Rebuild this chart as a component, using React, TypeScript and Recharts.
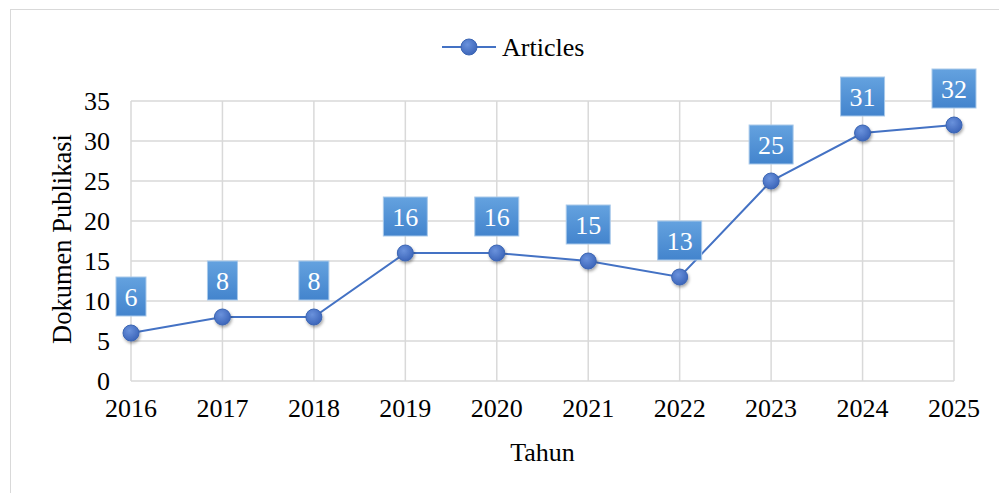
import { LineChart, Line, XAxis, YAxis, CartesianGrid, Legend, LabelList, Label } from "recharts";

const years = ["2016", "2017", "2018", "2019", "2020", "2021", "2022", "2023", "2024", "2025"];
const articles = [6, 8, 8, 16, 16, 15, 13, 25, 31, 32];
const yTicks = [0, 5, 10, 15, 20, 25, 30, 35];

const data = years.map((year, i) => ({ year, articles: articles[i] }));

const FONT = '"Liberation Serif", "Times New Roman", serif';
const BLUE = "#4472C4";

const renderDot = (props: any) => {
  const { cx, cy, index } = props;
  return <circle key={`dot-${index}`} cx={cx} cy={cy} r={8} fill="url(#dotFill)" stroke="#3b65b3" strokeWidth={1} filter="url(#dotShadow)" />;
};

const renderBox = (props: any) => {
  const { x, y, value, index } = props;
  const w = String(value).length > 1 ? 44 : 30;
  const h = 39;
  const bottom = y - 17;
  return (
    <g key={`lbl-${index}`}>
      <rect x={x - w / 2} y={bottom - h} width={w} height={h} fill="url(#boxFill)" stroke="#a9c9ea" strokeWidth={1} />
      <text x={x} y={bottom - h / 2 + 9} textAnchor="middle" fill="#ffffff" style={{ fontFamily: FONT, fontSize: 26 }}>
        {value}
      </text>
    </g>
  );
};

const renderLegend = () => (
  <svg width={999} height={30} style={{ display: "block" }}>
    <defs>
      <radialGradient id="dotFillLegend" cx="40%" cy="35%" r="70%">
        <stop offset="0%" stopColor="#6a92dc" />
        <stop offset="100%" stopColor="#3a63b8" />
      </radialGradient>
    </defs>
    <line x1={442} y1={15} x2={496} y2={15} stroke={BLUE} strokeWidth={2} />
    <circle cx={469} cy={15} r={8} fill="url(#dotFillLegend)" stroke="#3b65b3" strokeWidth={1} />
    <text x={502} y={24} fill="#000" style={{ fontFamily: FONT, fontSize: 26 }}>
      Articles
    </text>
  </svg>
);

const yTitle = (props: any) => {
  const vb = props.viewBox || {};
  const cx = 62;
  const cy = (vb.y || 101) + (vb.height || 280) / 2 - 2;
  return (
    <text x={cx} y={cy} transform={`rotate(-90, ${cx}, ${cy})`} textAnchor="middle" dominantBaseline="central" fill="#000" style={{ fontFamily: FONT, fontSize: 26.5 }}>
      Dokumen Publikasi
    </text>
  );
};

export default function App() {
  return (
    <div style={{ position: "absolute", left: 0, top: 0, width: 999, height: 493, overflow: "hidden", background: "#fff" }}>
      <div style={{ position: "absolute", left: 10, top: 9, width: 1100, height: 600, border: "1.5px solid #d9d9d9" }} />
      <LineChart width={999} height={493} data={data} margin={{ top: 71, right: 45, left: 51, bottom: 27 }} style={{ position: "absolute", left: 0, top: 0 }}>
        <defs>
          <radialGradient id="dotFill" cx="40%" cy="35%" r="70%">
            <stop offset="0%" stopColor="#6a92dc" />
            <stop offset="100%" stopColor="#3a63b8" />
          </radialGradient>
          <linearGradient id="boxFill" x1="0" y1="0" x2="0" y2="1">
            <stop offset="0%" stopColor="#64a2df" />
            <stop offset="100%" stopColor="#4384cd" />
          </linearGradient>
          <filter id="dotShadow" x="-50%" y="-50%" width="200%" height="200%">
            <feDropShadow dx={1} dy={2} stdDeviation={1.5} floodColor="#000" floodOpacity={0.35} />
          </filter>
        </defs>
        <CartesianGrid stroke="#d9d9d9" strokeWidth={1.5} />
        <XAxis
          dataKey="year"
          axisLine={false}
          tickLine={false}
          tickSize={0}
          tickMargin={18}
          height={85}
          interval={0}
          tick={{ fontFamily: FONT, fontSize: 26, fill: "#000" }}
        >
          <Label value="Tahun" position="insideBottom" offset={5} style={{ fontFamily: FONT, fontSize: 26, fill: "#000" }} />
        </XAxis>
        <YAxis
          domain={[0, 35]}
          ticks={yTicks}
          width={80}
          axisLine={false}
          tickLine={false}
          tickSize={0}
          tickMargin={21}
          interval={0}
          tick={{ fontFamily: FONT, fontSize: 26, fill: "#000" }}
        >
          <Label content={yTitle} />
        </YAxis>
        <Legend verticalAlign="top" content={renderLegend} wrapperStyle={{ top: 32, left: 0, width: 999, height: 30 }} />
        <Line
          type="linear"
          dataKey="articles"
          name="Articles"
          stroke={BLUE}
          strokeWidth={2}
          dot={renderDot}
          activeDot={false}
          isAnimationActive={false}
        >
          <LabelList dataKey="articles" content={renderBox} />
        </Line>
      </LineChart>
    </div>
  );
}
